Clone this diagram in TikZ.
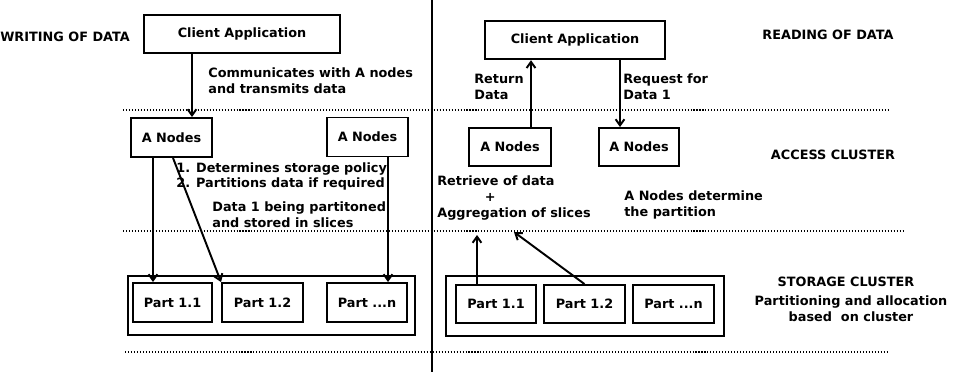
\documentclass[tikz,border=0pt]{standalone}
\usepackage{fontspec}
\setmainfont{DejaVu Sans}
\usepackage{tikz}
\usetikzlibrary{arrows.meta}

\begin{document}
\begin{tikzpicture}[x=0.02cm, y=-0.02cm,
  every node/.style={font=\fontsize{7.3}{9}\selectfont\bfseries},
  box/.style={draw, line width=1.1pt, minimum width=1.6cm, minimum height=0.78cm, inner sep=0pt},
  arr/.style={line width=1.1pt, -{Straight Barb[length=3.5pt,width=5pt]}},
  sep/.style={line width=0.6pt, dash pattern=on 0.6pt off 1.1pt},
  lbl/.style={anchor=west, align=left, inner sep=0pt}]
\useasboundingbox (0,0) rectangle (955,375);
% separators
\draw[line width=1.1pt] (432,0) -- (432,372);
\draw[sep] (123,110) -- (888,110);
\draw[sep] (123,231) -- (903,231);
\draw[sep] (125,352) -- (889,352);

% writing of data
\node[lbl] (wtitle) at (0,37) {WRITING OF DATA};
\node[box, minimum width=3.92cm, minimum height=0.76cm] (wclient) at (242,34) {Client Application};
\node[box, minimum width=1.62cm] (wan1) at (171.5,137.5) {A Nodes};
\node[box, minimum width=1.62cm] (wan2) at (367.5,137) {A Nodes};
\node[box, minimum width=5.74cm, minimum height=1.18cm] (wstore) at (271.5,305.5) {};
\node[box, minimum width=1.58cm] (wp11) at (172.5,302.5) {Part 1.1};
\node[box, minimum width=1.62cm] (wp12) at (262.5,302.5) {Part 1.2};
\node[box] (wpn) at (367,302.5) {Part ...n};
\node[lbl] (wcomm) at (208,81) {Communicates with A nodes\\and transmits data};
\node[lbl] (wpolicy) at (176,176.5) {1. Determines storage policy\\2. Partitions data if required};
\node[lbl] (wslices) at (212,215) {Data 1 being partitoned\\and stored in slices};
\draw[arr] (wclient.south -| 192,0) -- (wan1.north -| 192,0);
\draw[arr] (wan1.south -| 153,0) -- (wp11.north -| 153,0);
\draw[arr] (wan1.south -| 173,0) -- (wp12.north west);
\draw[arr] (wan2.south -| 388,0) -- (wpn.north -| 388,0);

% reading of data
\node (rtitle) at (828,35) {READING OF DATA};
\node (access) at (833,155) {ACCESS CLUSTER};
\node (storage) at (846,282) {STORAGE CLUSTER};
\node[align=center, inner sep=0pt] (alloc) at (851,309) {Partitioning and allocation\\based\ \ on cluster};
\node[box, minimum width=3.6cm, minimum height=0.77cm] (rclient) at (575,40) {Client Application};
\node[box, minimum width=1.64cm, minimum height=0.76cm] (ran1) at (510,147) {A Nodes};
\node[box, minimum height=0.76cm] (ran2) at (639,147) {A Nodes};
\node[box, minimum width=5.56cm, minimum height=1.2cm] (rstore) at (585,306) {};
\node[box, minimum height=0.76cm] (rp11) at (496,304) {Part 1.1};
\node[box, minimum width=1.62cm, minimum height=0.76cm] (rp12) at (584.5,304) {Part 1.2};
\node[box, minimum width=1.62cm, minimum height=0.76cm] (rpn) at (673.5,304) {Part ...n};
\node[lbl] (rreturn) at (474,87) {Return\\Data};
\node[lbl] (rrequest) at (623,87) {Request for\\Data 1};
\node[lbl] (raggr) at (437,198) {Retrieve of data\\\hspace{3.7em}+\\Aggregation of slices};
\node[lbl] (rpart) at (624,205) {A Nodes determine\\the partition};
\coordinate (agg1) at (477,235);
\coordinate (agg2) at (514,232);
\draw[arr] (ran1.north -| 531,0) -- (rclient.south -| 531,0);
\draw[arr] (rclient.south -| 620,0) -- (ran2.north -| 620,0);
\draw[arr] (rp11.north -| agg1) -- (agg1);
\draw[arr] (rp12.north) -- (agg2);
\end{tikzpicture}
\end{document}
